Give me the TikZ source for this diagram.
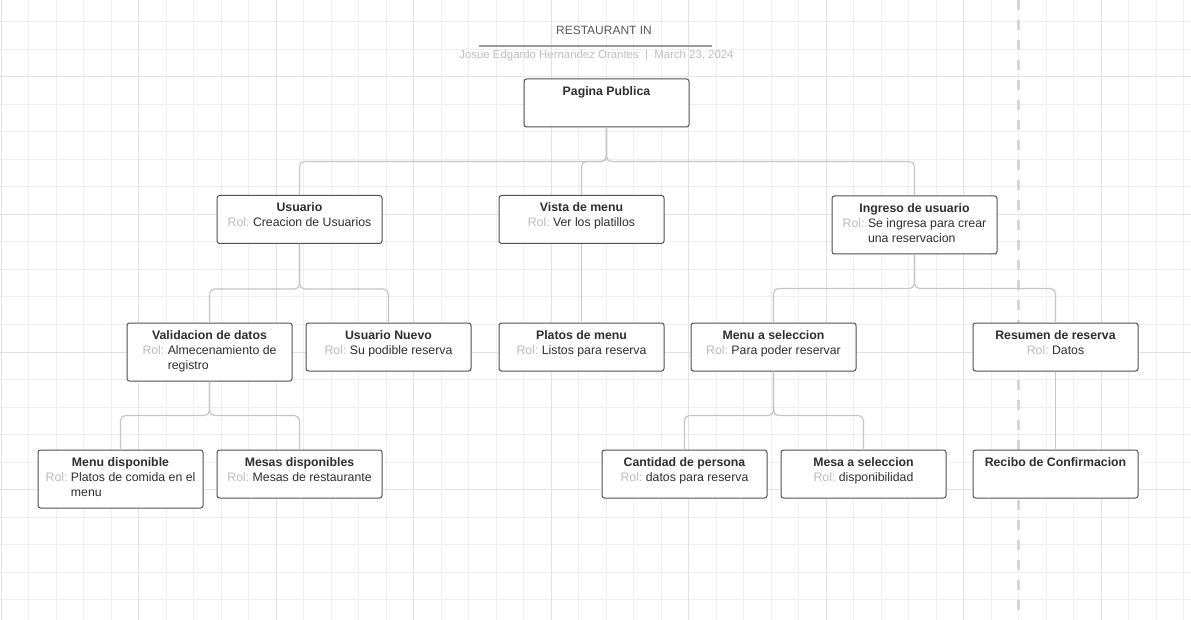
\documentclass[tikz,border=0pt]{standalone}
\usepackage{fontspec}
\setmainfont{Liberation Sans}
\usepackage{tikz}

\definecolor{gridminor}{HTML}{EEEEEE}
\definecolor{gridmajor}{HTML}{E2E2E2}
\definecolor{boxline}{HTML}{505050}
\definecolor{linkgray}{HTML}{C6C6C6}
\definecolor{rolgray}{HTML}{BBBBBB}
\definecolor{txtdark}{HTML}{2E2E2E}
\definecolor{dashgray}{HTML}{D6D6D6}

\newcommand{\rol}[1]{{\color{rolgray}Rol:}~#1}
\newcommand{\cardtext}[3]{\begin{minipage}[t][#1][t]{160pt}\centering\textbf{#2}\par#3\end{minipage}}

\tikzset{
	card/.style={draw=boxline, line width=1pt, rounded corners=2.5pt, fill=white, inner xsep=2.5pt, inner ysep=7.5pt, text=txtdark, font=\fontsize{12.3}{15}\selectfont},
	link/.style={draw=linkgray, line width=1.2pt, rounded corners=5pt}
}

\begin{document}
\begin{tikzpicture}[x=1pt, y=-1pt]
						\useasboundingbox (0,0) rectangle (1191,620);
						\fill[white] (0,0) rectangle (1191,620);
						\foreach \i in {0,...,43} {\draw[gridminor, line width=1pt] ({1+27.5*\i},0) -- ({1+27.5*\i},620);}
						\foreach \j in {0,...,23} {\draw[gridminor, line width=1pt] (0,{-5.5+27.5*\j}) -- (1191,{-5.5+27.5*\j});}
						\foreach \i in {0,...,8} {\draw[gridmajor, line width=1pt] ({1+137.5*\i},0) -- ({1+137.5*\i},620);}
						\foreach \j in {0,...,3} {\draw[gridmajor, line width=1pt] (0,{77+137.5*\j}) -- (1191,{77+137.5*\j});}
						\draw[dashgray, line width=3pt, dash pattern=on 10pt off 10pt] (1018,0) -- (1018,620);
						\node[text=black!65, font=\fontsize{12}{14}\selectfont] (ttl) at (604,30) {RESTAURANT IN};
						\draw[black!40, line width=1.3pt] (479,46) -- (712,46);
						\node[text=black!25, font=\fontsize{11.4}{13}\selectfont] (sub) at (596.5,56) {Josue Edgardo Hernandez Orantes \ |\ \ March 23, 2024};
						\node[card] (pag) at (606.5,103) {\cardtext{33pt}{Pagina Publica}{}};
						\node[card] (usr) at (299.5,219.5) {\cardtext{33pt}{Usuario}{\rol{Creacion de Usuarios}}};
						\node[card] (vm) at (581.5,219.5) {\cardtext{33pt}{Vista de menu}{\rol{Ver los platillos}}};
						\node[card] (ing) at (914.5,225) {\cardtext{43pt}{Ingreso de usuario}{\rol{\begin{tabular}[t]{@{}l@{}}Se ingresa para crear\\una reservacion\end{tabular}}}};
						\node[card] (val) at (209.5,352) {\cardtext{43pt}{Validacion de datos}{\rol{\begin{tabular}[t]{@{}l@{}}Almecenamiento de\\registro\end{tabular}}}};
						\node[card] (usn) at (388.5,347) {\cardtext{33pt}{Usuario Nuevo}{\rol{Su podible reserva}}};
						\node[card] (plm) at (581.5,347) {\cardtext{33pt}{Platos de menu}{\rol{Listos para reserva}}};
						\node[card] (msel) at (773.5,347) {\cardtext{33pt}{Menu a seleccion}{\rol{Para poder reservar}}};
						\node[card] (res) at (1055.5,347) {\cardtext{33pt}{Resumen de reserva}{\rol{Datos}}};
						\node[card] (mdisp) at (120.5,479) {\cardtext{43pt}{Menu disponible}{\rol{\begin{tabular}[t]{@{}l@{}}Platos de comida en el\\menu\end{tabular}}}};
						\node[card] (mesd) at (299.5,474) {\cardtext{33pt}{Mesas disponibles}{\rol{Mesas de restaurante}}};
						\node[card] (cant) at (684.5,474) {\cardtext{33pt}{Cantidad de persona}{\rol{datos para reserva}}};
						\node[card] (mesa) at (863.5,474) {\cardtext{33pt}{Mesa a seleccion}{\rol{disponibilidad}}};
						\node[card] (rec) at (1055.5,474) {\cardtext{33pt}{Recibo de Confirmacion}{}};
						\draw[link] (pag.south) -- ++(0,34) -| (usr.north);
						\draw[link] (pag.south) -- ++(0,34) -| (vm.north);
						\draw[link] (pag.south) -- ++(0,34) -| (ing.north);
						\draw[link] (usr.south) -- ++(0,45) -| (val.north);
						\draw[link] (usr.south) -- ++(0,45) -| (usn.north);
						\draw[link] (vm.south) -- (plm.north);
						\draw[link] (ing.south) -- ++(0,34) -| (msel.north);
						\draw[link] (ing.south) -- ++(0,34) -| (res.north);
						\draw[link] (val.south) -- ++(0,34) -| (mdisp.north);
						\draw[link] (val.south) -- ++(0,34) -| (mesd.north);
						\draw[link] (msel.south) -- ++(0,44) -| (cant.north);
						\draw[link] (msel.south) -- ++(0,44) -| (mesa.north);
						\draw[link] (res.south) -- (rec.north);
					\end{tikzpicture}
\end{document}
